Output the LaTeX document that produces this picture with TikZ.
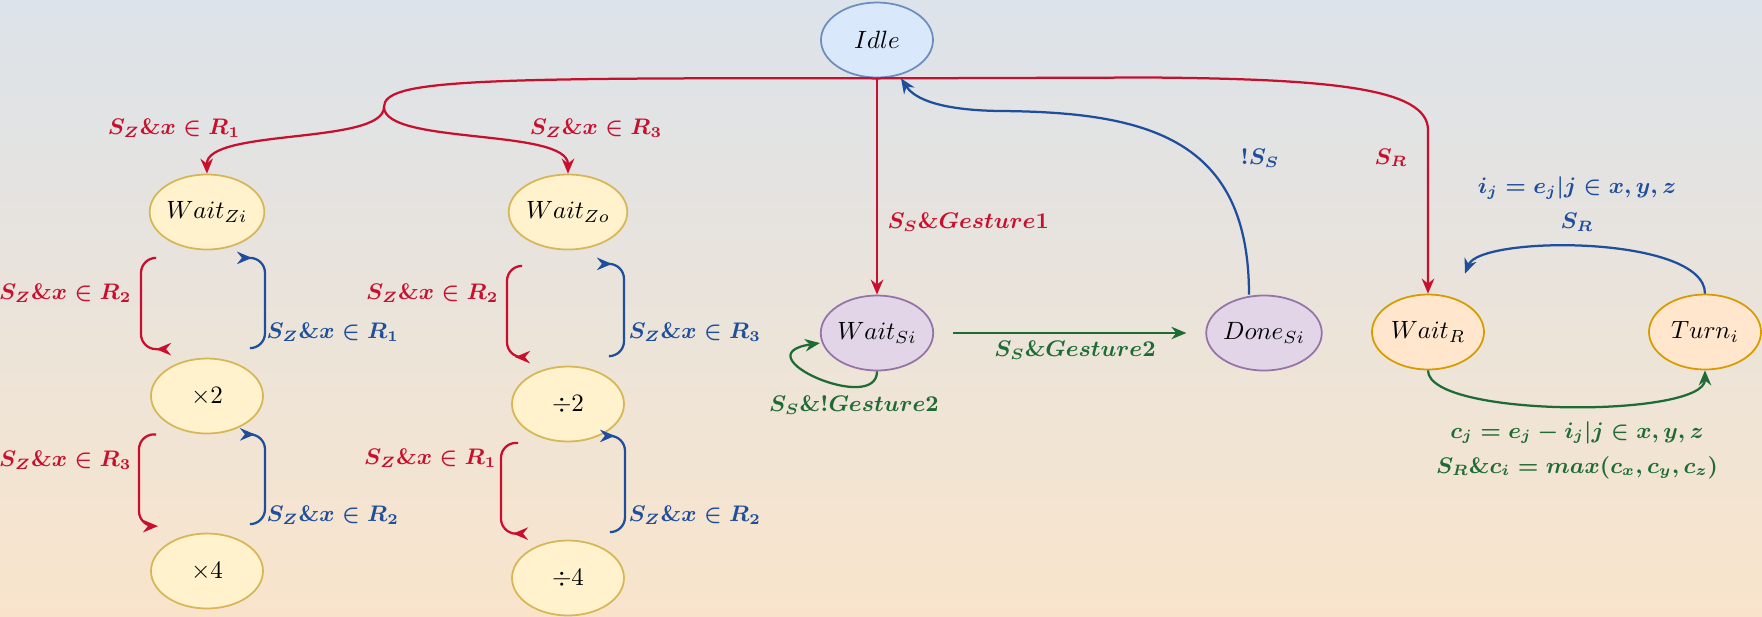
\documentclass[tikz,border=0pt]{standalone}
\usepackage{amsmath}
\usepackage{xcolor}
\usepackage{tikz}
\usetikzlibrary{arrows.meta, shapes.geometric}
\definecolor{cred}{HTML}{C8102E}
\definecolor{cblue}{HTML}{1F4E9C}
\definecolor{cgreen}{HTML}{1E6B33}
\definecolor{cbgtop}{HTML}{DCE3EA}
\definecolor{cbgmid}{HTML}{F1EBD9}
\definecolor{cbgbot}{HTML}{F9E4CB}
\definecolor{cidle}{HTML}{DAE8FC}
\definecolor{cidledraw}{HTML}{6C8EBF}
\definecolor{czoom}{HTML}{FFF2CC}
\definecolor{czoomdraw}{HTML}{D6B656}
\definecolor{csel}{HTML}{E1D5E7}
\definecolor{cseldraw}{HTML}{9673A6}
\definecolor{crot}{HTML}{FFE6CC}
\definecolor{crotdraw}{HTML}{D79B00}

\begin{document}
\begin{tikzpicture}[x=0.4pt, y=-0.4pt,
		state/.style={ellipse, draw, line width=0.7pt, inner sep=0pt, minimum width=44.8pt, minimum height=30pt},
		stidle/.style={state, draw=cidledraw, fill=cidle},
		stzoom/.style={state, draw=czoomdraw, fill=czoom},
		stsel/.style={state, draw=cseldraw, fill=csel},
		strot/.style={state, draw=crotdraw, fill=crot},
		arr/.style={line width=0.9pt, -{Stealth[length=6pt, width=5pt]}},
		redarr/.style={arr, cred},
		bluearr/.style={arr, cblue},
		greenarr/.style={arr, cgreen},
		bracket/.style={rounded corners=6pt},
		lbl/.style={font=\boldmath\small, inner sep=0pt}]
			\useasboundingbox (0,0) rectangle (1762,616);
			\shade[top color=cbgtop, middle color=cbgmid, bottom color=cbgbot] (0,0) rectangle (1762,616);

			\node[stidle] (idle) at (877,40) {$Idle$};
			\node[stzoom] (wzi) at (207,212) {$Wait_{Zi}$};
			\node[stzoom] (wzo) at (568,212) {$Wait_{Zo}$};
			\node[stzoom] (mtwo) at (207,396) {$\times 2$};
			\node[stzoom] (mfour) at (207,571) {$\times 4$};
			\node[stzoom] (dtwo) at (568,404) {$\div 2$};
			\node[stzoom] (dfour) at (568,578) {$\div 4$};
			\node[stsel] (wsi) at (877,333) {$Wait_{Si}$};
			\node[stsel] (dsi) at (1264,333) {$Done_{Si}$};
			\node[strot] (wr) at (1428,332) {$Wait_R$};
			\node[strot] (turn) at (1705,332) {$Turn_i$};
			\coordinate (split) at (384,107);

			\draw[redarr] (split) .. controls (384,80) and (470,77.5) .. (idle.south) -- (1150,77.5)
				.. controls (1330,79) and (1428,88) .. (1428,130) -- (wr.north);
			\draw[redarr] (split) .. controls (384,145) and (206,128) .. (wzi.north);
			\draw[redarr] (split) .. controls (384,145) and (568,128) .. (wzo.north);
			\draw[redarr] (idle.south) -- (wsi.north);
			\draw[bluearr] ([xshift=-6pt]dsi.north) .. controls (1249,140) and (1150,112) .. (1000,111)
				.. controls (930,110) and (912,95) .. ([xshift=9.6pt]idle.south);
			\draw[greenarr] ([xshift=7.6pt]wsi.east) -- ([xshift=-7.6pt]dsi.west);
			\draw[greenarr] (wsi.south) .. controls (877,415) and (740,355) .. ([yshift=-4pt]wsi.west);
			\draw[bluearr] (turn.north) .. controls (1705,235) and (1480,235) .. ([shift={(37,-20)}]wr.north);
			\draw[greenarr] (wr.south) .. controls (1428,418) and (1705,418) .. (turn.south);

			\draw[redarr, bracket] ([shift={(-51,7.5)}]wzi.south) -- ++(-15,0) |- ([shift={(-51,-8.5)}]mtwo.north);
			\draw[bluearr, bracket] ([shift={(43,-9.5)}]mtwo.north) -- ++(15,0) |- ([shift={(45,7.5)}]wzi.south);
			\draw[redarr, bracket] ([shift={(-51,0)}]mtwo.south) -- ++(-17,0) |- ([shift={(-49,-6.5)}]mfour.north);
			\draw[bluearr, bracket] ([shift={(43,-8.5)}]mfour.north) -- ++(15,0) |- ([shift={(48,0)}]mtwo.south);
			\draw[redarr, bracket] ([shift={(-46,15.5)}]wzo.south) -- ++(-15,0) |- ([shift={(-53,-8.5)}]dtwo.north);
			\draw[bluearr, bracket] ([shift={(42,-9.5)}]dtwo.north) -- ++(14,0) |- ([shift={(44,13.5)}]wzo.south);
			\draw[redarr, bracket] ([shift={(-50,0.5)}]dtwo.south) -- ++(-17,0) |- ([shift={(-55,-6)}]dfour.north);
			\draw[bluearr, bracket] ([shift={(42,-7.5)}]dfour.north) -- ++(15,0) |- ([shift={(47,-6.5)}]dtwo.south);

			\node[lbl, cred] (lzone) at (174,128) {$S_Z\&x\in R_1$};
			\node[lbl, cred] (lztwo) at (596,128) {$S_Z\&x\in R_3$};
			\node[lbl, cred, anchor=east] (lza) at (132,293) {$S_Z\&x\in R_2$};
			\node[lbl, cblue, anchor=west] (lzb) at (266,332) {$S_Z\&x\in R_1$};
			\node[lbl, cred, anchor=east] (lzc) at (132,460) {$S_Z\&x\in R_3$};
			\node[lbl, cblue, anchor=west] (lzd) at (266,515) {$S_Z\&x\in R_2$};
			\node[lbl, cred, anchor=east] (lze) at (499,293) {$S_Z\&x\in R_2$};
			\node[lbl, cblue, anchor=west] (lzf) at (628,332) {$S_Z\&x\in R_3$};
			\node[lbl, cred, anchor=east] (lzg) at (497,458) {$S_Z\&x\in R_1$};
			\node[lbl, cblue, anchor=west] (lzh) at (628,515) {$S_Z\&x\in R_2$};

			\node[lbl, cred, anchor=west] (lgone) at (887,222) {$S_S\&Gesture1$};
			\node[lbl, cblue] (lnot) at (1260,158) {$!S_S$};
			\node[lbl, cred] (lsr) at (1391,158) {$S_R$};
			\node[lbl, cgreen] (lgtwo) at (1075,350) {$S_S\&Gesture2$};
			\node[lbl, cgreen] (lloop) at (854,405) {$S_S\&!Gesture2$};
			\node[lbl, cblue, align=center] (lturn) at (1577,204) {$i_j = e_j|j\in x,y,z$\\[3pt] $S_R$};
			\node[lbl, cgreen, align=center] (lback) at (1577,450) {$c_j = e_j - i_j|j\in x,y,z$\\[3pt] $S_R\&c_i = max(c_x,c_y,c_z)$};
		\end{tikzpicture}
\end{document}
